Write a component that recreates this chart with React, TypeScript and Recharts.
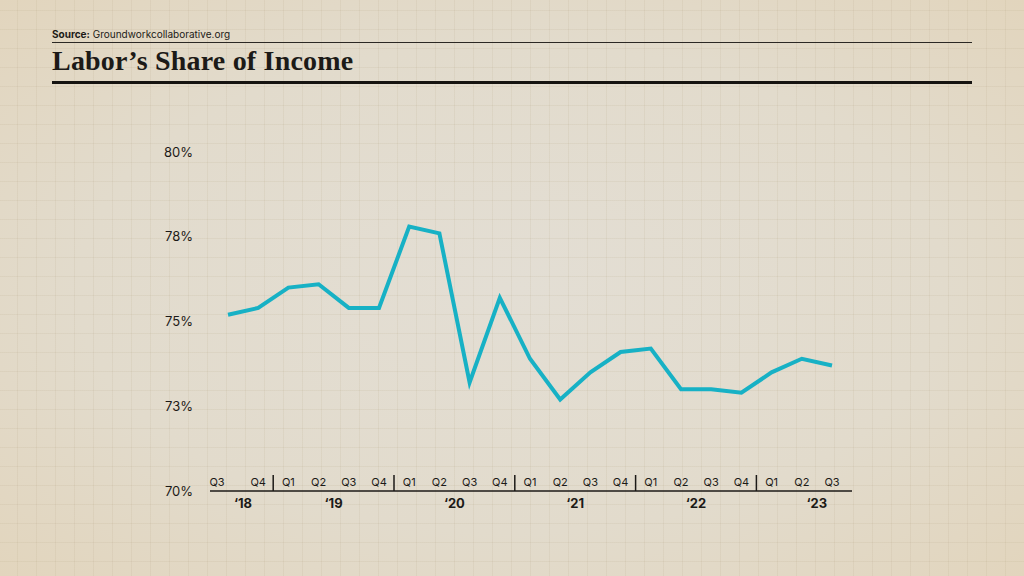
import React from 'react';
import { LineChart, Line, XAxis, YAxis } from 'recharts';

// quarterly labor share, Q3 2018 .. Q3 2023
const quarterLabels = [
  'Q3', 'Q4',
  'Q1', 'Q2', 'Q3', 'Q4',
  'Q1', 'Q2', 'Q3', 'Q4',
  'Q1', 'Q2', 'Q3', 'Q4',
  'Q1', 'Q2', 'Q3', 'Q4',
  'Q1', 'Q2', 'Q3',
];
const yearLabels = [
  '‘18', '‘18',
  '‘19', '‘19', '‘19', '‘19',
  '‘20', '‘20', '‘20', '‘20',
  '‘21', '‘21', '‘21', '‘21',
  '‘22', '‘22', '‘22', '‘22',
  '‘23', '‘23', '‘23',
];
const laborShare = [
  75.2, 75.4,
  76.0, 76.1, 75.4, 75.4,
  77.8, 77.6, 73.2, 75.7,
  73.9, 72.7, 73.5, 74.1,
  74.2, 73.0, 73.0, 72.9,
  73.5, 73.9, 73.7,
];
const yTicks = [70, 72.5, 75, 77.5, 80];

const data = quarterLabels.map((q, i) => ({
  key: `${q} ${yearLabels[i]}`,
  q,
  year: yearLabels[i],
  value: laborShare[i],
}));

const SANS = 'Inter, "Liberation Sans", sans-serif';
const INK = '#1c1a17';

const QuarterTick = (props: any) => {
  const { x, y, index } = props;
  const q = quarterLabels[index];
  const half = 15;
  const showYear = q === 'Q2' || index === 0;
  const isLastQ4 = q === 'Q4' && index < quarterLabels.length - 1;
  return (
    <g>
      <text
        x={index === 0 ? x - 11 : x}
        y={y - 5}
        textAnchor="middle"
        fontFamily={SANS}
        fontSize={11}
        fill={INK}
      >
        {q}
      </text>
      {isLastQ4 && (
        <line x1={x + half} x2={x + half} y1={y - 16} y2={y} stroke={INK} strokeWidth={1.5} />
      )}
      {showYear && (
        <text
          x={x + half}
          y={y + 17}
          textAnchor="middle"
          fontFamily={SANS}
          fontSize={13}
          fontWeight={700}
          fill={INK}
        >
          {yearLabels[index]}
        </text>
      )}
    </g>
  );
};

export default function App() {
  return (
    <div
      style={{
        position: 'fixed',
        left: 0,
        top: 0,
        width: 1024,
        height: 576,
        backgroundColor: '#e3dbcc',
        backgroundImage:
          'linear-gradient(to right, rgba(170,150,115,0.11) 1px, transparent 1px), linear-gradient(to bottom, rgba(170,150,115,0.11) 1px, transparent 1px), radial-gradient(ellipse at center, #e3ded4 0%, #e2dbcc 60%, #e2d5bd 100%)',
        backgroundSize: '19px 19px, 19px 19px, 100% 100%',
        backgroundPosition: '17px 10px, 17px 10px, 0 0',
        overflow: 'hidden',
      }}
    >
      <div
        style={{
          position: 'absolute',
          left: 52,
          top: 28,
          fontFamily: SANS,
          fontSize: 10,
          color: INK,
          lineHeight: '12px',
        }}
      >
        <span style={{ fontWeight: 700 }}>Source:</span> Groundworkcollaborative.org
      </div>
      <div style={{ position: 'absolute', left: 52, top: 42, width: 920, height: 1, background: '#2b2824' }} />
      <div
        style={{
          position: 'absolute',
          left: 52,
          top: 46,
          fontFamily: '"Liberation Serif", "DejaVu Serif", serif',
          fontSize: 28,
          fontWeight: 700,
          color: INK,
          lineHeight: '30px',
          letterSpacing: 0.2,
        }}
      >
        Labor’s Share of Income
      </div>
      <div style={{ position: 'absolute', left: 52, top: 81, width: 920, height: 3, background: '#151310' }} />

      <div style={{ position: 'absolute', left: 0, top: 0 }}>
        <LineChart
          width={1024}
          height={576}
          data={data}
          margin={{ top: 152, right: 172, bottom: 55, left: 160 }}
        >
          <XAxis
            dataKey="key"
            interval={0}
            height={30}
            padding={{ left: 18, right: 20 }}
            axisLine={{ stroke: INK, strokeWidth: 1.5 }}
            tickLine={false}
            tickSize={0}
            tickMargin={0}
            tick={<QuarterTick />}
          />
          <YAxis
            domain={[70, 80]}
            ticks={yTicks}
            width={50}
            axisLine={false}
            tickLine={false}
            tickSize={0}
            tickMargin={17}
            tickFormatter={(v: number) => `${Math.round(v)}%`}
            tick={{ fill: INK, fontSize: 13, fontFamily: SANS }}
          />
          <Line
            type="linear"
            dataKey="value"
            stroke="#17b1c5"
            strokeWidth={4}
            dot={false}
            activeDot={false}
            strokeLinejoin="miter"
            isAnimationActive={false}
          />
        </LineChart>
      </div>
    </div>
  );
}
